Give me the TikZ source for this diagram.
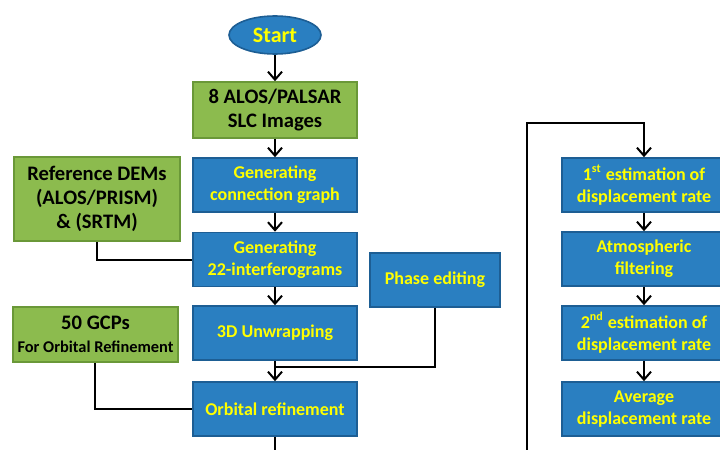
\documentclass[tikz,border=0pt]{standalone}
\usepackage{fontspec}
\setmainfont{Carlito}
\usetikzlibrary{positioning}
\usetikzlibrary{shapes.geometric}
\usetikzlibrary{arrows.meta}
\definecolor{boxblue}{HTML}{2A7FC1}
\definecolor{blueedge}{HTML}{1D5E94}
\definecolor{boxgreen}{HTML}{8CBB4E}
\definecolor{greenedge}{HTML}{6A9838}
\definecolor{labelyellow}{HTML}{FFFF00}
\tikzset{
	>={Straight Barb[length=4pt,width=7pt,line width=1pt]},
	startnode/.style={
		ellipse,
		fill=boxblue,
		draw=blueedge, thick,
		minimum width=46pt,
		minimum height=19pt,
		inner sep=0pt,
		text=labelyellow,
		font=\bfseries\fontsize{11}{12}\selectfont},
	process/.style={
		rectangle,
		fill=boxblue,
		draw=blueedge, thick,
		minimum width=82pt,
		minimum height=27pt,
		inner sep=0pt,
		align=center,
		text=labelyellow,
		font=\bfseries\fontsize{9}{11}\selectfont},
	source/.style={
		rectangle,
		fill=boxgreen,
		draw=greenedge, thick,
		inner sep=0pt,
		align=center,
		font=\bfseries\fontsize{10.3}{11.8}\selectfont},
	line/.style={draw, line width=1pt},
}
\begin{document}
\begin{tikzpicture}[x=0.5pt,y=0.5pt]
	\useasboundingbox (0,0) rectangle (720,-450);
	\clip (0,0) rectangle (720,-450);
	% main column
	\node[startnode] (start) at (275,-35) {Start};
	\node[source, minimum width=82pt, minimum height=28pt] (alos) at (275,-110) {8 ALOS/PALSAR\\SLC Images};
	\node[process] (graph) at (275,-185) {Generating\\connection graph};
	\node[process] (interf) at (275,-259.5) {Generating\\22-interferograms};
	\node[process] (unwrap) at (275,-333) {3D Unwrapping};
	\node[process] (orbit) at (275,-409) {Orbital refinement};
	% side inputs
	\node[source, minimum width=83pt, minimum height=42pt] (dem) at (97,-199) {Reference DEMs\\(ALOS/PRISM)\\\& (SRTM)};
	\node[source, minimum width=82.5pt, minimum height=27.5pt] (gcp) at (95.5,-334.5) {50 GCPs\\{\fontsize{8.2}{10}\selectfont For Orbital Refinement}};
	\node[process, minimum width=65pt] (phase) at (435,-280) {Phase editing};
	% right column
	\node[process] (est1) at (644,-185) {1\textsuperscript{st} estimation of\\displacement rate};
	\node[process] (atmo) at (644,-259) {Atmospheric\\filtering};
	\node[process] (est2) at (644,-333) {2\textsuperscript{nd} estimation of\\displacement rate};
	\node[process] (avg) at (644,-409) {Average\\displacement rate};
	% helper points
	\coordinate (merge) at (275,-367);
	\coordinate (exit) at (275,-460);
	\coordinate (loopend) at (527,-460);
	\coordinate (looptop) at (644,-123);

	\draw[line,->] (start) -- (alos);
	\draw[line,->] (alos) -- (graph);
	\draw[line,->] (graph) -- (interf);
	\draw[line,->] (interf) -- (unwrap);
	\draw[line,->] (unwrap) -- (orbit);
	\draw[line] (orbit) -- (exit);
	\draw[line] (dem.south) |- (interf.west);
	\draw[line] (gcp.south) |- (orbit.west);
	\draw[line] (phase.south) |- (merge);
	\draw[line,->] (loopend) |- (looptop) -- (est1);
	\draw[line,->] (est1) -- (atmo);
	\draw[line,->] (atmo) -- (est2);
	\draw[line,->] (est2) -- (avg);
\end{tikzpicture}
\end{document}
